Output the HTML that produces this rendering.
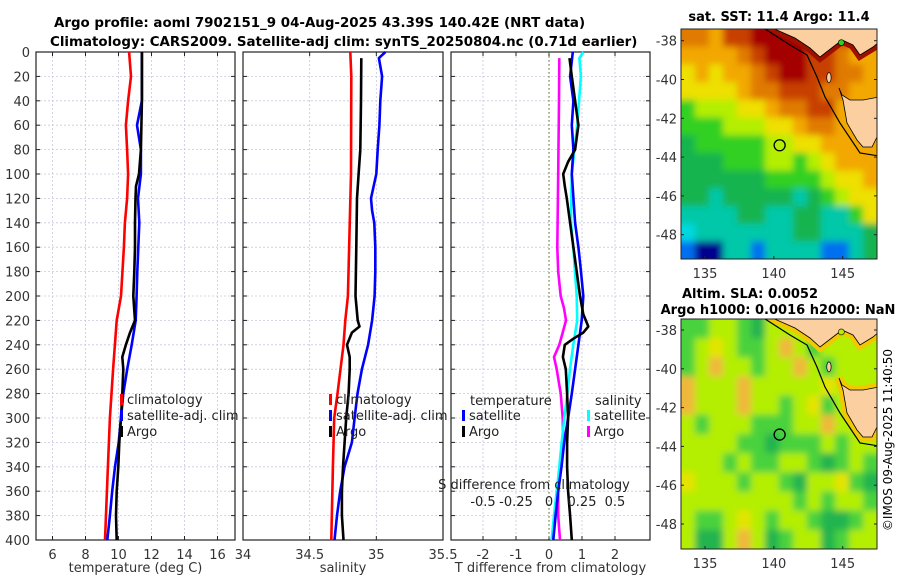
<!DOCTYPE html>
<html><head><meta charset="utf-8"><style>
html,body{margin:0;padding:0;background:#fff;}
svg{display:block;font-family:"DejaVu Sans","Liberation Sans",sans-serif;}
</style></head><body>
<svg id="fig" width="900" height="580" viewBox="0 0 900 580">
<defs>
<filter id="blur" x="-5%" y="-5%" width="110%" height="110%"><feGaussianBlur stdDeviation="3.5"/></filter>
<clipPath id="clip1"><rect x="681" y="29" width="196" height="230"/></clipPath>
<clipPath id="clip2"><rect x="681" y="319" width="196" height="230"/></clipPath>
</defs>
<text x="54" y="27" font-size="13.4" font-weight="bold">Argo profile: aoml 7902151_9 04-Aug-2025 43.39S 140.42E (NRT data)</text>
<text x="50" y="46" font-size="13.4" font-weight="bold">Climatology: CARS2009. Satellite-adj clim: synTS_20250804.nc (0.71d earlier)</text>
<g id="panels"></g>
<g id="maps"></g>
<text transform="translate(892,440) rotate(-90)" font-size="12" text-anchor="middle">©IMOS 09-Aug-2025 11:40:50</text>
</svg>
<script>
// ---------- data ----------
const depthTicks = [0,20,40,60,80,100,120,140,160,180,200,220,240,260,280,300,320,340,360,380,400];
const tTicks = [6,8,10,12,14,16];
const sTicks = [34,34.5,35,35.5];
const dTTicks = [-2,-1,0,1,2];
const dSTicks = [-0.5,-0.25,0,0.25,0.5];

const tClimDepth = [0,20,40,60,80,100,120,140,160,200,220,260,300,340,400];
const tClim = [10.64,10.76,10.58,10.45,10.52,10.58,10.52,10.39,10.33,10.15,9.89,9.67,9.48,9.36,9.18];
const tSatDepth = [0,20,40,60,80,100,120,140,160,180,200,220,240,260,280,300,320,340,360,380,400];
const tSat = [11.42,11.42,11.42,11.12,11.36,11.36,11.18,11.26,11.2,11.14,11.1,11.04,10.8,10.53,10.29,10.15,10.01,9.79,9.62,9.48,9.32];
const tArgoDepth = [0,40,60,80,100,110,120,140,160,180,200,220,230,240,250,260,280,300,320,340,360,380,400];
const tArgo = [11.42,11.42,11.39,11.36,11.24,11.06,11.03,11.0,11.0,10.96,10.9,11.0,10.7,10.45,10.23,10.29,10.23,10.15,10.05,9.99,9.89,9.85,9.89];

const sClimDepth = [0,20,100,200,220,240,280,300,340,400];
const sClim = [34.805,34.812,34.81,34.787,34.767,34.754,34.709,34.684,34.674,34.662];
const sSatDepth = [0,5,20,40,60,80,100,120,130,140,160,180,200,220,240,260,280,300,320,340,360,380,400];
const sSat = [35.068,35.019,35.043,35.03,35.023,35.01,35.0,34.96,34.968,34.985,34.992,34.992,34.987,34.968,34.938,34.892,34.859,34.837,34.817,34.762,34.729,34.705,34.686];
const sArgoDepth = [5,40,80,100,120,160,200,220,225,230,240,250,260,280,300,320,340,360,380,400];
const sArgo = [34.887,34.885,34.88,34.867,34.855,34.85,34.844,34.86,34.874,34.817,34.78,34.80,34.80,34.792,34.774,34.762,34.75,34.742,34.742,34.754];

const dTSatDepth = [0,20,40,60,80,100,140,160,180,200,220,240,260,280,300,320,340,360,380,400];
const dTSat = [0.72,0.64,0.74,0.69,0.74,0.69,0.79,0.89,0.97,1.04,0.99,0.89,0.79,0.69,0.58,0.46,0.38,0.28,0.2,0.13];
const dTArgoDepth = [5,20,40,60,80,90,100,110,120,140,160,180,200,215,225,230,235,240,250,260,280,300,320,340,360,380,400];
const dTArgo = [0.62,0.69,0.79,0.89,0.79,0.58,0.43,0.48,0.54,0.64,0.74,0.84,0.94,1.04,1.19,1.04,0.74,0.48,0.42,0.51,0.55,0.58,0.55,0.55,0.58,0.64,0.69];
const dSSatDepth = [0,5,20,60,100,140,160,200,220,240,260,280,300,320,340,360,380,400];
const dSSat = [0.26,0.23,0.242,0.214,0.172,0.167,0.184,0.21,0.214,0.184,0.159,0.139,0.116,0.096,0.078,0.058,0.038,0.02];
const dSArgoDepth = [5,40,100,160,180,200,210,220,230,240,250,260,280,300,320,340,360,380,400];
const dSArgo = [0.078,0.076,0.07,0.063,0.07,0.089,0.114,0.129,0.104,0.078,0.038,0.058,0.089,0.104,0.108,0.089,0.07,0.07,0.083];

// ---------- helpers ----------
const NS = "http://www.w3.org/2000/svg";
function mk(tag, attrs, parent){const e=document.createElementNS(NS,tag);for(const k in attrs)e.setAttribute(k,attrs[k]);parent.appendChild(e);return e;}
const Y0=52, Y1=540;
const yD = d => Y0 + (d/400)*(Y1-Y0);
const panelsG = document.getElementById('panels');
function linScale(v0,v1,p0,p1){return v=>p0+(v-v0)/(v1-v0)*(p1-p0);}

function panel(name, x0, x1, vmin, vmax, ticks, tickFmt, xTitle, showY){
  const g = mk('g',{},panelsG);
  
  
  const sx = linScale(vmin,vmax,x0,x1);
  ticks.forEach(t=>{const l=mk('line',{x1:sx(t),x2:sx(t),y1:Y0,y2:Y1,stroke:'#c8c8e0','stroke-dasharray':'2,2','stroke-width':0.8},g);
    });
  depthTicks.forEach(d=>{const l=mk('line',{x1:x0,x2:x1,y1:yD(d),y2:yD(d),stroke:'#c8c8e0','stroke-dasharray':'2,2','stroke-width':0.8},g);
    
    mk('line',{x1:x0,x2:x0+4,y1:yD(d),y2:yD(d),stroke:'#222'},g);
    mk('line',{x1:x1-4,x2:x1,y1:yD(d),y2:yD(d),stroke:'#222'},g);
    if(showY){const t=mk('text',{x:x0-6,y:yD(d)+5,'font-size':13,'text-anchor':'end',fill:'#333'},g);t.textContent=d;
      }
  });
  ticks.forEach((t,i)=>{mk('line',{x1:sx(t),x2:sx(t),y1:Y1,y2:Y1-4,stroke:'#222'},g);
    mk('line',{x1:sx(t),x2:sx(t),y1:Y0,y2:Y0+4,stroke:'#222'},g);
    const tx=mk('text',{x:sx(t),y:Y1+19,'font-size':13,'text-anchor':'middle',fill:'#333'},g);tx.textContent=tickFmt[i];
    });
  const tt=mk('text',{x:(x0+x1)/2,y:572,'font-size':13,'text-anchor':'middle',fill:'#333'},g);tt.textContent=xTitle;
  
  const fr=mk('rect',{x:x0,y:Y0,width:x1-x0,height:Y1-Y0,fill:'none',stroke:'#222','stroke-width':1.2},g);
  
  return {g,sx};
}
function series(p, depths, vals, color, name, sx){
  const pts = depths.map((d,i)=>((sx||p.sx)(vals[i])).toFixed(1)+','+yD(d).toFixed(1)).join(' ');
  const l = mk('polyline',{points:pts,fill:'none',stroke:color,'stroke-width':2.6,'stroke-linejoin':'round'},p.g);
  
  
}
function legendEntry(g,x,y,color,label){
  const r=mk('rect',{x:x,y:y-8,width:3,height:11,fill:color},g);
  
  const t=mk('text',{x:x+7,y:y+2,'font-size':13,fill:'#222'},g);t.textContent=label;
  
}

const p1 = panel('temperature-panel',36,235,5,5+199/16.5,tTicks,tTicks.map(String),'temperature (deg C)',true);
series(p1,tClimDepth,tClim,'#ff0000','temp-climatology-line');
series(p1,tSatDepth,tSat,'#0000ff','temp-satellite-line');
series(p1,tArgoDepth,tArgo,'#000000','temp-argo-line');
legendEntry(p1.g,120,402,'#ff0000','climatology');
legendEntry(p1.g,120,418,'#0000ff','satellite-adj. clim');
legendEntry(p1.g,120,434,'#000000','Argo');

const p2 = panel('salinity-panel',243,443,34,35.5,sTicks,['34','34.5','35','35.5'],'salinity',false);
series(p2,sClimDepth,sClim,'#ff0000','sal-climatology-line');
series(p2,sSatDepth,sSat,'#0000ff','sal-satellite-line');
series(p2,sArgoDepth,sArgo,'#000000','sal-argo-line');
legendEntry(p2.g,329,402,'#ff0000','climatology');
legendEntry(p2.g,329,418,'#0000ff','satellite-adj. clim');
legendEntry(p2.g,329,434,'#000000','Argo');

const p3 = panel('difference-panel',451,650,(451-549)/33,(650-549)/33,dTTicks,dTTicks.map(String),'T difference from climatology',false);
const zl=mk('line',{x1:549,x2:549,y1:Y0,y2:Y1,stroke:'#556b2f','stroke-dasharray':'1.5,2.5','stroke-width':1},p3.g);

const sxS = linScale(0,0.25,549,582);
series(p3,dSArgoDepth,dSArgo,'#ff00ff','sal-diff-argo-line',sxS);
series(p3,dSSatDepth,dSSat,'#00ffff','sal-diff-satellite-line',sxS);
series(p3,dTSatDepth,dTSat,'#0000ff','temp-diff-satellite-line');
series(p3,dTArgoDepth,dTArgo,'#000000','temp-diff-argo-line');
let tx=mk('text',{x:470,y:405,'font-size':13,fill:'#222'},p3.g);tx.textContent='temperature';

tx=mk('text',{x:595,y:405,'font-size':13,fill:'#222'},p3.g);tx.textContent='salinity';

legendEntry(p3.g,462,418,'#0000ff','satellite');
legendEntry(p3.g,462,434,'#000000','Argo');
legendEntry(p3.g,587,418,'#00ffff','satellite');
legendEntry(p3.g,587,434,'#ff00ff','Argo');
tx=mk('text',{x:534,y:489,'font-size':13,'text-anchor':'middle',fill:'#222'},p3.g);tx.textContent='S difference from climatology';

dSTicks.forEach(t=>{const e=mk('text',{x:sxS(t),y:506,'font-size':13,'text-anchor':'middle',fill:'#222'},p3.g);e.textContent=String(t);
  });

// ---------- maps ----------
const sstColors={D:'#a50000',R:'#c84000',O:'#e07a00',A:'#f2a800',Y:'#eee000',L:'#b4ee00',G:'#30d020',M:'#14b450',T:'#00c8a8',C:'#00d8e0',B:'#0070f0',N:'#000090',P:'#fccfa0'};
const sstGrid=[
"OOARRDDDDRRRRR",
"AAAAORDDDRROAA",
"YAYAAORDDRROOA",
"YYYYAOORRROOAA",
"GLLLYYAOORRAAA",
"GGGLLLYYAOOAAA",
"MGGGGGLLYYAAAA",
"MMMGGGLLGLYAAA",
"MMMMMMGGGGLYYA",
"MMTMMMMMTMGLYY",
"TTTTMMTTMMTTGY",
"CTTTTTTTMMTTTM",
"BNNTTBTTTTBBTM"];
const slaColors={L:'#b4ee00',G:'#48d23c',M:'#22b450',Y:'#e4e400',O:'#f0b83a',P:'#fccfa0'};
const slaGrid=[
"GGLLGMLLLLLLLL",
"GLYLGGLOLGLLLL",
"GLOLLGLLOLGLLL",
"OLLLOLLLLLYLLL",
"OLLLOLLGLYGLLL",
"LGLLLGGGLLOLLL",
"LLLLGGMGGGLGLL",
"LLLGLGGLLGMGLG",
"YLLLGLLGMLLYGM",
"LLLLLLLLGLGLLG",
"LGGLYLGLLGMMGL",
"LMMLOLMGLLMGLL"];
// coastline geometry in pixel offsets relative to SST map (top=29)
const isoPx=[[762,27],[790,45],[807,55],[817,77],[825,97],[840,123],[860,153],[879,156]];
const mainPx=[[770,27],[795,38],[810,48],[820,57],[833,47],[842,40],[853,45],[860,55],[873,47],[879,42],[879,27]];
const tasPx=[[839,88],[843,100],[847,123],[857,140],[863,147],[872,147],[879,133],[879,97],[863,100],[850,100],[842,95]];
const mapsG=document.getElementById('maps');
function drawMap(name,title1,title2,top,bottom,latTopPx,grid,colors,mapNum){
  const L=681,R=877,dy=top-29;
  const g=mk('g',{},mapsG);
  
  
  const slon=linScale(135,145,705,842.7);
  const slat=lat=>latTopPx+(-38-lat)*19.4;
  const rows=grid.length, cols=grid[0].length;
  const cw=(R-L)/cols, ch=(bottom-top)/rows;
  const cg=mk('g',{'clip-path':'url(#clip'+mapNum+')'},g);
  const bg=mk('g',{filter:'url(#blur)'},cg);
  grid.forEach((row,ri)=>{for(let ci=0;ci<cols;ci++){
    mk('rect',{x:L+(ci-(ci==0?1:0))*cw,y:top+(ri-(ri==0?1:0))*ch,width:cw*(ci==0||ci==cols-1?2:1)+0.6,height:ch*(ri==0||ri==rows-1?2:1)+0.6,fill:colors[row[ci]]},bg);
  }});
  const pp=arr=>arr.map(p=>p[0]+','+(p[1]+dy)).join(' ');
  if(mapNum===2){
    mk('polygon',{points:pp(mainPx),fill:'none',stroke:'#f2c800','stroke-width':9},cg);
    mk('polygon',{points:pp(tasPx),fill:'none',stroke:'#f2c800','stroke-width':9},cg);
  } else {
    mk('polygon',{points:pp(mainPx),fill:'none',stroke:'#a01000','stroke-width':9},cg);
  }
  const land=mk('polygon',{points:pp(mainPx),fill:'#fccfa0',stroke:'#000','stroke-width':0.8},cg);
  
  const t2=mk('polygon',{points:pp(tasPx),fill:'#fccfa0',stroke:'#000','stroke-width':0.8},cg);
  
  mk('ellipse',{cx:slon(144),cy:slat(-39.9),rx:2.2,ry:5,fill:'#fccfa0',stroke:'#000','stroke-width':0.7},cg);
  mk('circle',{cx:slon(144.9),cy:slat(-38.1),r:3,fill:mapNum===1?'#30d020':'#b4ee00',stroke:'#000','stroke-width':0.6},cg);
  mk('polyline',{points:pp(isoPx),fill:'none',stroke:'#000','stroke-width':1.2},cg);
  const mk1=mk('circle',{cx:slon(140.42),cy:slat(-43.39),r:5.5,fill:'none',stroke:'#000','stroke-width':1.3},g);
  
  mk('rect',{x:L,y:top,width:R-L,height:bottom-top,fill:'none',stroke:'#222','stroke-width':1},g);
  [-38,-40,-42,-44,-46,-48].forEach(la=>{const y=slat(la);mk('line',{x1:L,x2:L+3,y1:y,y2:y,stroke:'#222'},g);mk('line',{x1:R-3,x2:R,y1:y,y2:y,stroke:'#222'},g);
    const t=mk('text',{x:L-4,y:y+5,'font-size':13,'text-anchor':'end',fill:'#333'},g);t.textContent=String(la);
    });
  [135,140,145].forEach(lo=>{const x=slon(lo);mk('line',{x1:x,x2:x,y1:bottom,y2:bottom-3,stroke:'#222'},g);
    const t=mk('text',{x:x,y:bottom+19,'font-size':13,'text-anchor':'middle',fill:'#333'},g);t.textContent=String(lo);
    });
  const a=mk('text',{x:title2?750:779,y:title2?top-21:top-8,'font-size':13,'font-weight':'bold','text-anchor':'middle'},g);a.textContent=title1;
  
  if(title2){const b=mk('text',{x:778,y:top-5,'font-size':13,'font-weight':'bold','text-anchor':'middle'},g);b.textContent=title2;
    }
}
drawMap('sst-map','sat. SST: 11.4 Argo: 11.4',null,29,259,40.7,sstGrid,sstColors,1);
drawMap('sla-map','Altim. SLA: 0.0052','Argo h1000: 0.0016 h2000: NaN',319,549,330,slaGrid,slaColors,2);
</script>
</body></html>
